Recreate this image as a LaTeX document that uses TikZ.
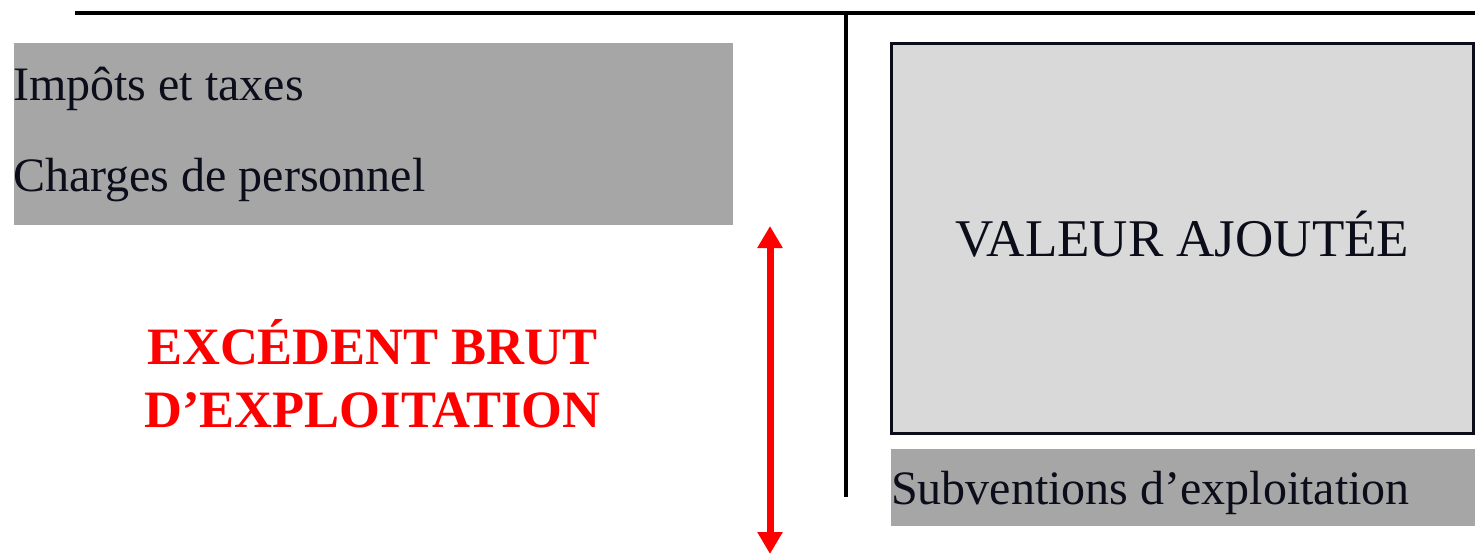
\documentclass[tikz,border=0pt]{standalone}
\usepackage{fontspec}
\setmainfont{Liberation Serif}
\usetikzlibrary{arrows.meta}
\definecolor{grisfonce}{HTML}{A6A6A6}
\definecolor{grisclair}{HTML}{D9D9D9}
\definecolor{encre}{HTML}{0B0D1A}
\tikzset{
  texte/.style={anchor=base west, inner sep=0pt, text=encre, font=\fontsize{48}{58}\selectfont},
  fleche/.style={red, line width=7pt, {Triangle[width=24pt,length=22pt]}-{Triangle[width=24pt,length=22pt]}}
}
\begin{document}
\begin{tikzpicture}[x=1pt, y=-1pt]
            \useasboundingbox (0,0) rectangle (1475,554);
            \fill[grisfonce] (14,43) rectangle (733,225);
            \fill[grisfonce] (891,449) rectangle (1475,526);
            \node[draw=encre, fill=grisclair, line width=2.5pt, inner sep=0pt, minimum width=582pt, minimum height=390pt] (va) at (1182.25,238.25) {};
            \draw[line width=4pt] (75,13) -- (1475,13);
            \draw[line width=4pt] (846,13) -- (846,497);
            \node[texte] (impots) at (13,100) {Impôts et taxes};
            \node[texte] (charges) at (13,191) {Charges de personnel};
            \node[texte] (subventions) at (891,504) {Subventions d’exploitation};
            \node[anchor=base, inner sep=0pt, text=encre, font=\fontsize{53}{63}\selectfont] (valeur) at (va.center |- 0,256.7) {VALEUR AJOUTÉE};
            \node[anchor=base, inner sep=0pt, red, align=center, font=\fontsize{52.5}{63.4}\selectfont\bfseries] (ebe) at (372.5,427.7) {EXCÉDENT BRUT\\D’EXPLOITATION};
            \coordinate (haut) at (770,226);
            \coordinate (bas) at (770,554);
            \draw[fleche] (haut) -- (bas);
          \end{tikzpicture}
\end{document}
